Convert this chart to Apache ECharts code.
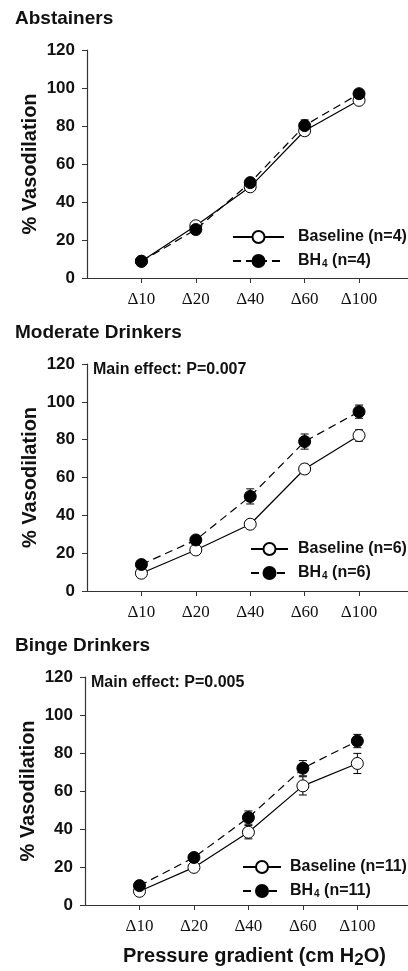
<!DOCTYPE html>
<html>
<head>
<meta charset="utf-8">
<script src="https://cdn.jsdelivr.net/npm/echarts@6/dist/echarts.min.js"></script>
<style>
  html, body { margin: 0; padding: 0; background: #fff; }
  #chart { width: 408px; height: 971px; }
</style>
</head>
<body>
<div id="chart"></div>
<script>
// pressure gradient steps
var categories = ['Δ10', 'Δ20', 'Δ40', 'Δ60', 'Δ100'];
var yTicks = [0, 20, 40, 60, 80, 100, 120];

// Abstainers
var absBaseline = [8.8, 27.5, 48, 77.5, 93.5];
var absBaselineErr = [1, 1.5, 2, 2.5, 1.5];
var absBH4 = [8.8, 25.5, 50.2, 80.2, 97];
var absBH4Err = [1, 1.5, 2, 3, 1.5];

// Moderate drinkers
var modBaseline = [9.4, 21.7, 35.3, 64.5, 82.2];
var modBaselineErr = [1, 1.5, 1.5, 2.5, 3];
var modBH4 = [14, 27, 50, 79, 94.8];
var modBH4Err = [1, 1.5, 4, 4, 3.5];

// Binge drinkers
var bingeBaseline = [7.2, 19.8, 38.3, 62.7, 74.5];
var bingeBaselineErr = [1, 1.5, 3.5, 4.8, 5.3];
var bingeBH4 = [10.2, 25, 46, 72, 86.3];
var bingeBH4Err = [1, 1.5, 3.5, 4, 3.5];

var panels = [
    { title: 'Abstainers', n: 4, base: absBaseline, baseErr: absBaselineErr, bh4: absBH4, bh4Err: absBH4Err, p: null,
      grid: { left: 87, top: 50, height: 228, width: 321 }, xMax: 5.9,
      legend: { left: 232, top: 229, itemWidth: 51, pad: 9 } },
    { title: 'Moderate Drinkers', n: 6, base: modBaseline, baseErr: modBaselineErr, bh4: modBH4, bh4Err: modBH4Err, p: '0.007',
      grid: { left: 87, top: 364, height: 227, width: 321 }, xMax: 5.9,
      legend: { left: 250, top: 541, itemWidth: 37, pad: 5 } },
    { title: 'Binge Drinkers', n: 11, base: bingeBaseline, baseErr: bingeBaselineErr, bh4: bingeBH4, bh4Err: bingeBH4Err, p: '0.005',
      grid: { left: 85, top: 677, height: 228, width: 323 }, xMax: 5.93,
      legend: { left: 242, top: 859, itemWidth: 38, pad: 4 } }
];

var myChart = echarts.init(document.getElementById('chart'));

function toXY(arr) {
    return arr.map(function (v, i) { return [i + 1, v]; });
}
function toErr(arr, err) {
    return arr.map(function (v, i) { return [i + 1, v, err[i]]; });
}
function errorBars(params, api) {
    var x = api.value(0), y = api.value(1), e = api.value(2);
    var top = api.coord([x, y + e]);
    var bot = api.coord([x, y - e]);
    var cap = 4;
    var st = { stroke: '#000', lineWidth: 1 };
    return {
        type: 'group',
        children: [
            { type: 'line', shape: { x1: top[0], y1: top[1], x2: bot[0], y2: bot[1] }, style: st },
            { type: 'line', shape: { x1: top[0] - cap, y1: top[1], x2: top[0] + cap, y2: top[1] }, style: st },
            { type: 'line', shape: { x1: bot[0] - cap, y1: bot[1], x2: bot[0] + cap, y2: bot[1] }, style: st }
        ]
    };
}

var grids = [], xAxes = [], yAxes = [], series = [], legends = [], graphics = [];
var font = '"Liberation Sans", Arial, sans-serif';
var catPos = categories.map(function (c, i) { return i + 1; });

panels.forEach(function (p, k) {
    grids.push(p.grid);
    xAxes.push({
        type: 'value', gridIndex: k, min: 0, max: p.xMax,
        splitLine: { show: false },
        axisLine: { lineStyle: { color: '#333', width: 1.2 } },
        axisTick: { show: true, length: 5, customValues: catPos, lineStyle: { color: '#333' } },
        axisLabel: {
            margin: 13, color: '#111', fontSize: 17, customValues: catPos,
            fontFamily: '"Liberation Serif", "Times New Roman", serif',
            formatter: function (v) { return categories[Math.round(v) - 1] || ''; }
        }
    });
    yAxes.push({
        type: 'value', gridIndex: k, min: yTicks[0], max: yTicks[yTicks.length - 1], interval: 20,
        splitLine: { show: false },
        axisLine: { show: true, lineStyle: { color: '#333', width: 1.2 } },
        axisTick: { show: true, length: 5, lineStyle: { color: '#333' } },
        axisLabel: { margin: 12, color: '#111', fontSize: 17, fontWeight: 'bold', fontFamily: font },
        name: '% Vasodilation', nameLocation: 'middle', nameGap: 47, nameMoveOverlap: false,
        nameTextStyle: { fontSize: 20, fontWeight: 'bold', color: '#111', fontFamily: font }
    });

    var baseName = 'Baseline (n=' + p.n + ')';
    var bhName = 'BH4 (n=' + p.n + ')';
    series.push({
        type: 'custom', xAxisIndex: k, yAxisIndex: k, z: 1,
        renderItem: errorBars, data: toErr(p.base, p.baseErr), silent: true
    });
    series.push({
        type: 'custom', xAxisIndex: k, yAxisIndex: k, z: 1,
        renderItem: errorBars, data: toErr(p.bh4, p.bh4Err), silent: true
    });
    series.push({
        name: baseName, type: 'line', xAxisIndex: k, yAxisIndex: k, z: 2,
        data: toXY(p.base), symbol: 'circle', symbolSize: 12,
        lineStyle: { color: '#000', width: 1.2, type: 'solid' },
        itemStyle: { color: '#fff', borderColor: '#000', borderWidth: 1 }
    });
    series.push({
        name: bhName, type: 'line', xAxisIndex: k, yAxisIndex: k, z: 3,
        data: toXY(p.bh4), symbol: 'circle', symbolSize: 12,
        lineStyle: { color: '#000', width: 1.2, type: [8, 5] },
        itemStyle: { color: '#000', borderColor: '#000', borderWidth: 1 }
    });

    legends.push({
        orient: 'vertical', left: p.legend.left, top: p.legend.top, padding: 0,
        itemWidth: p.legend.itemWidth, itemHeight: 15, itemGap: 8,
        selectedMode: false,
        data: [baseName, bhName],
        formatter: function (name) {
            if (name.indexOf('BH4') === 0) {
                return '{t|BH}{s|4}{t|' + name.slice(3) + '}';
            }
            return '{t|' + name + '}';
        },
        textStyle: {
            padding: [0, 0, 0, p.legend.pad],
            rich: {
                t: { fontSize: 16, fontWeight: 'bold', color: '#111', fontFamily: font, lineHeight: 18 },
                s: { fontSize: 10, fontWeight: 'bold', color: '#111', fontFamily: font, lineHeight: 12, padding: [6, 0, 0, 1] }
            }
        }
    });

    graphics.push({
        type: 'text', left: 15, top: p.grid.top - 41,
        style: { text: p.title, fill: '#111', font: 'bold 19px ' + font }
    });
    if (p.p) {
        graphics.push({
            type: 'text', left: p.grid.left + 6, top: p.grid.top - 2,
            style: { text: 'Main effect: P=' + p.p, fill: '#111', font: 'bold 16px ' + font }
        });
    }
});

graphics.push({
    type: 'text', left: 123, top: 944,
    style: {
        text: '{a|Pressure gradient (cm H}{b|2}{a|O)}',
        rich: {
            a: { fontSize: 20, fontWeight: 'bold', fill: '#111', fontFamily: font, lineHeight: 24 },
            b: { fontSize: 17, fontWeight: 'bold', fill: '#111', fontFamily: font, lineHeight: 16, padding: [8, 0, 0, 0] }
        }
    }
});

var option = {
    backgroundColor: '#fff',
    animation: false,
    grid: grids,
    xAxis: xAxes,
    yAxis: yAxes,
    legend: legends,
    series: series,
    graphic: graphics
};
myChart.setOption(option);
</script>
</body>
</html>
